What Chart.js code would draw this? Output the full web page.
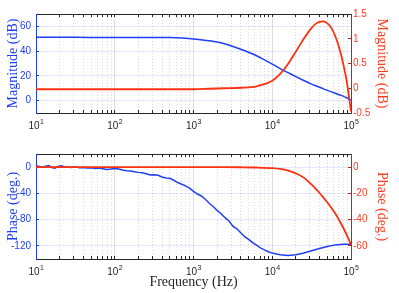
<!DOCTYPE html>
<html>
<head>
<meta charset="utf-8">
<script src="https://cdn.jsdelivr.net/npm/chart.js@4.4.1/dist/chart.umd.min.js"></script>
<style>
body { margin: 0; background: #fff; width: 399px; height: 293px; overflow: hidden; position: relative; }
canvas { position: absolute; left: 0; }
#mag { top: 0; }
#phase { top: 140px; }
</style>
</head>
<body>
<canvas id="mag" width="399" height="140"></canvas>
<canvas id="phase" width="399" height="153"></canvas>
<script>
// frequency axis
const decades = [10, 100, 1000, 10000, 100000];
const decadeBase = "10";
const decadeExp = ["1", "2", "3", "4", "5"];

// magnitude / smooth curves
const magFreq = [10, 31.6, 100, 316, 501, 631, 1000, 1585, 2512, 3981, 6310, 10000, 12589, 15849, 19953,
    25119, 31623, 35481, 39811, 44668, 50119, 56234, 63096, 70795, 79433, 89125, 100000];
const magBlue = [51.3, 51.2, 51.0, 51.0, 51.1, 50.8, 49.8, 48.3, 45.8, 41.5, 36.3, 29.5, 25.8, 22.6, 19.4,
    16.3, 13.3, 12.0, 10.8, 9.5, 8.3, 7.1, 6.0, 4.8, 3.6, 2.1, 0.5];
const magRed = [-0.02, -0.02, -0.02, -0.02, -0.02, -0.02, -0.02, -0.01, 0, 0.01, 0.04, 0.15, 0.29, 0.49, 0.74,
    1.0, 1.22, 1.3, 1.34, 1.35, 1.31, 1.22, 1.05, 0.82, 0.5, 0.1, -0.47];
const phaseRed = [0, 0, 0, 0, 0, 0, 0, 0, 0, -0.1, -0.3, -0.8, -1.4, -2.6, -4.8,
    -8, -13.3, -16.3, -19.7, -23.2, -27, -31, -35.3, -40.5, -46, -52.3, -59];

// measured phase (noisy)
const phaseFreq = [10, 11, 12, 13.2, 14.5, 15.8, 17.4, 19, 20.9, 22.9, 25.1,
    28.2, 31.6, 35.5, 39.8, 44.7, 50.1, 56.2, 63.1, 70.8, 79.4, 89.1, 100,
    112, 126, 141, 158, 178, 200, 224, 251, 282, 316, 355, 398, 447, 501, 562, 631, 708, 794, 891, 1000,
    1122, 1259, 1413, 1585, 1778, 1995, 2239, 2512, 2818, 3162, 3548, 3981, 4467, 5012, 5623, 6310, 7079, 7943, 8913, 10000,
    12589, 15849, 19953, 25119, 31623, 39811, 50119, 63096, 79433, 100000];
const phaseBlue = [2, 1, 0, 1.5, 2.5, -0.5, -1.5, 1, 2, 0.5, 0,
    -0.5, 0.5, -1, -0.5, -1.5, -1, -2, -1.5, -2.5, -3.5, -3, -2,
    -3, -4.5, -5.5, -6, -7, -8, -8.5, -10, -12, -11.5, -12.5, -15, -16.5, -17, -20, -23.5, -26, -28.5, -32, -37,
    -41, -44, -49, -55, -60, -66, -71, -77, -82, -90, -94, -100, -106, -110, -115, -119, -123, -126, -129, -131,
    -133.5, -134.5, -133.5, -131, -127.5, -124, -121, -118.5, -117.5, -117.5];

// y ticks
const magLeftTicks = [0, 20, 40, 60];
const magRightTicks = [-0.5, 0, 0.5, 1, 1.5];
const phaseLeftTicks = [-120, -80, -40, 0];
const phaseRightTicks = [-60, -40, -20, 0];

const BLUE = "#1f3ff5";
const RED = "#ff3010";
const RED_LABEL = "#ff3d22";
const RED_AXIS = "#b3262a";
const AXIS = "#262626";
const SANS = "Liberation Sans";
const SERIF = "Liberation Serif";

function pts(xs, ys) {
    return xs.map((x, i) => ({ x: x, y: ys[i] }));
}

function isDecade(v) {
    return decades.indexOf(v) >= 0;
}

function freqTicks(scale) {
    const t = [];
    decades.forEach((d, i) => {
        t.push({ value: d, major: true });
        if (i < decades.length - 1) {
            for (let k = 2; k <= 9; k++) t.push({ value: d * k });
        }
    });
    scale.ticks = t;
}

// 10^n labels with a raised exponent, like matlab
const powerLabels = {
    id: "powerLabels",
    afterDraw(chart) {
        const s = chart.scales.x;
        const ctx = chart.ctx;
        ctx.save();
        ctx.fillStyle = AXIS;
        ctx.textBaseline = "alphabetic";
        ctx.textAlign = "left";
        decades.forEach((d, i) => {
            ctx.font = "10px " + SANS;
            const wb = ctx.measureText(decadeBase).width;
            ctx.font = "7px " + SANS;
            const we = ctx.measureText(decadeExp[i]).width;
            const x0 = s.getPixelForValue(d) - (wb + we) / 2;
            const base = s.top + 15.5;
            ctx.font = "10px " + SANS;
            ctx.fillText(decadeBase, x0, base);
            ctx.font = "7px " + SANS;
            ctx.fillText(decadeExp[i], x0 + wb + 0.5, base - 5);
        });
        ctx.restore();
    }
};

function freqAxis(height, pos, title) {
    return {
        type: "logarithmic",
        position: pos,
        min: 10,
        max: 100000,
        afterBuildTicks: freqTicks,
        afterFit: s => { s.height = height; },
        ticks: {
            display: pos === "bottom",
            autoSkip: false,
            maxRotation: 0,
            callback: () => ""
        },
        grid: {
            drawOnChartArea: pos === "bottom",
            color: ctx => (ctx.tick && isDecade(ctx.tick.value)) ? "#dedede" : "#dcdcdc",
            tickLength: -3,
            tickColor: AXIS,
            tickBorderDash: []
        },
        border: {
            color: AXIS,
            width: 1,
            dash: ctx => (ctx.tick && !isDecade(ctx.tick.value)) ? [1, 2] : []
        },
        title: title ? {
            display: true,
            text: title,
            color: AXIS,
            font: { family: SERIF, size: 14 },
            padding: { top: 0, bottom: 2 }
        } : { display: false }
    };
}

function yAxis(pos, min, max, tickVals, color, axisColor, gridColor, title, width, titlePad) {
    return {
        position: pos,
        min: min,
        max: max,
        afterBuildTicks: s => { s.ticks = tickVals.map(v => ({ value: v })); },
        afterFit: s => { s.width = width; },
        ticks: {
            color: color,
            padding: pos === "left" ? 8 : 5,
            font: { family: SANS, size: 10 },
            callback: v => String(v)
        },
        grid: {
            drawOnChartArea: gridColor !== null,
            color: gridColor || "rgba(0,0,0,0)",
            tickLength: -3,
            tickColor: axisColor
        },
        border: { color: axisColor, width: 1 },
        title: {
            display: true,
            text: title,
            color: color,
            font: { family: SERIF, size: 14 },
            padding: { top: titlePad, bottom: 0 }
        }
    };
}

function makeChart(id, padTop, xHeight, xTitle, datasets, yl, yr) {
    return new Chart(document.getElementById(id).getContext("2d"), {
        type: "line",
        data: { datasets: datasets },
        options: {
            responsive: false,
            animation: false,
            devicePixelRatio: 1,
            layout: { padding: { top: padTop, left: 0, right: 0, bottom: 0 } },
            plugins: { legend: { display: false }, tooltip: { enabled: false } },
            elements: { point: { radius: 0 } },
            scales: {
                x: freqAxis(xHeight, "bottom", xTitle),
                x2: freqAxis(0, "top", null),
                y: yl,
                y1: yr
            }
        },
        plugins: [powerLabels]
    });
}

const magChart = makeChart("mag", 7, 27, null, [
    { data: pts(magFreq, magRed), yAxisID: "y1", borderColor: RED, borderWidth: 1.8, cubicInterpolationMode: "monotone" },
    { data: pts(magFreq, magBlue), yAxisID: "y", borderColor: BLUE, borderWidth: 1.5, cubicInterpolationMode: "monotone" }
],
    yAxis("left", -10, 70, magLeftTicks, BLUE, BLUE, "rgba(31,63,245,0.13)", "Magnitude (dB)", 36, 5),
    yAxis("right", -0.5, 1.5, magRightTicks, RED_LABEL, RED_AXIS, null, "Magnitude (dB)", 48, 9)
);

const phaseChart = makeChart("phase", 14, 34, "Frequency (Hz)", [
    { data: pts(magFreq, phaseRed), yAxisID: "y1", borderColor: RED, borderWidth: 1.8, cubicInterpolationMode: "monotone" },
    { data: pts(phaseFreq, phaseBlue), yAxisID: "y", borderColor: BLUE, borderWidth: 1.5, tension: 0 }
],
    yAxis("left", -140, 20, phaseLeftTicks, BLUE, BLUE, "rgba(31,63,245,0.13)", "Phase (deg.)", 36, 5),
    yAxis("right", -70, 10, phaseRightTicks, RED_LABEL, RED_AXIS, null, "Phase (deg.)", 48, 9)
);
</script>
</body>
</html>
